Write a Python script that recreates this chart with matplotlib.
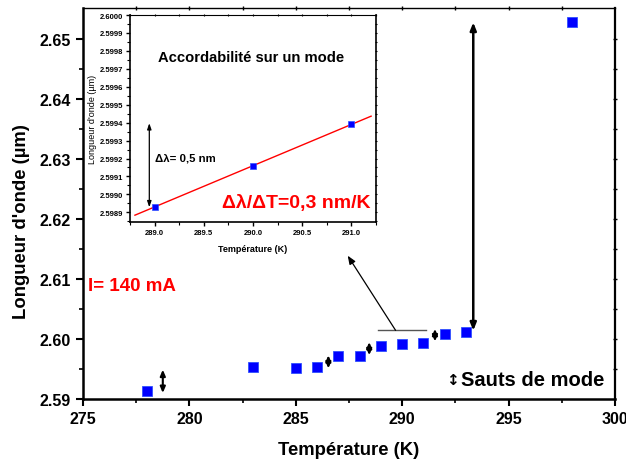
import matplotlib
matplotlib.use("Agg")
import matplotlib.pyplot as plt
import numpy as np

plt.rcParams['font.family'] = ['Liberation Sans', 'DejaVu Sans']

# main data
temps = [278, 283, 285, 286, 287, 288, 289, 290, 291, 292, 293, 298]
wavelengths = [2.5914, 2.5953, 2.5952, 2.5954, 2.5971, 2.5972, 2.5989, 2.5991, 2.5993, 2.6009, 2.6011, 2.6528]

# mode-jump arrows (T, y_low, y_high)
jump_T = [278.75, 286.53, 288.45, 291.54]
jump_lo = [2.5910, 2.5951, 2.5973, 2.5996]
jump_hi = [2.5949, 2.5973, 2.5995, 2.6017]
big_jump_T = 293.34
big_jump_lo = 2.6014
big_jump_hi = 2.6528

# inset data
inset_T = [289.0, 290.0, 291.0]
inset_wl = [2.59893, 2.59916, 2.59939]

xticks = [275, 280, 285, 290, 295, 300]
yticks = [2.59, 2.60, 2.61, 2.62, 2.63, 2.64, 2.65]
inset_xticks = [289.0, 289.5, 290.0, 290.5, 291.0]
inset_yticks = [2.5989, 2.5990, 2.5991, 2.5992, 2.5993, 2.5994, 2.5995, 2.5996, 2.5997, 2.5998, 2.5999, 2.6000]

blue = '#0000FF'
red = '#FF0000'

fig = plt.figure(figsize=(6.26, 4.64), dpi=100)
ax = fig.add_axes([0.1326, 0.1379, 0.8498, 0.8427])
ax.plot(temps, wavelengths, 's', color=blue, markersize=7.5, markeredgecolor='#3050ff', markeredgewidth=0.6, zorder=3)
ax.set_xlim(275, 300)
ax.set_ylim(2.59, 2.6552)
ax.set_xticks(xticks)
ax.set_xticklabels([str(t) for t in xticks])
ax.set_yticks(yticks)
ax.set_yticklabels(['%.2f' % v for v in yticks])
ax.set_xticks(np.arange(277.5, 300, 5), minor=True)
ax.set_yticks(np.arange(2.595, 2.655, 0.01), minor=True)
ax.tick_params(which='major', direction='out', length=5, width=1.5, labelsize=11.5, top=False, right=False)
ax.tick_params(which='minor', direction='out', length=3, width=1.2, top=False, right=False)
for lab in ax.get_xticklabels() + ax.get_yticklabels():
    lab.set_fontweight('bold')
for s in ['left', 'bottom']:
    ax.spines[s].set_linewidth(1.8)
ax.spines['top'].set_linewidth(1.0)
ax.spines['right'].set_linewidth(1.6)
# mirrored small ticks on top/right
axt = ax.secondary_xaxis('top')
axt.set_xticks(list(np.arange(277.5, 300, 2.5)))
axt.tick_params(direction='inout', length=3, width=1, labeltop=False)
axt.set_xticklabels([])
axt.spines['top'].set_visible(False)
axr = ax.secondary_yaxis('right')
axr.set_yticks(list(np.arange(2.595, 2.655, 0.005)))
axr.tick_params(direction='inout', length=3, width=1)
axr.set_yticklabels([])
axr.spines['right'].set_visible(False)

fig.text(349 / 626, 1 - 451 / 464, 'Température (K)', fontsize=13.3, fontweight='bold', ha='center', va='center')
fig.text(22 / 626, 1 - 222 / 464, "Longueur d'onde (µm)", fontsize=13.3, fontweight='bold',
         ha='center', va='center', rotation=90)

arrow_small = dict(arrowstyle='<|-|>,head_length=0.35,head_width=0.15', color='black', lw=1.5, shrinkA=0, shrinkB=0)
for t, lo, hi in zip(jump_T, jump_lo, jump_hi):
    ax.annotate('', xy=(t, hi), xytext=(t, lo), arrowprops=arrow_small)
ax.annotate('', xy=(big_jump_T, big_jump_hi), xytext=(big_jump_T, big_jump_lo),
            arrowprops=dict(arrowstyle='<|-|>,head_length=0.45,head_width=0.18', color='black', lw=1.8, shrinkA=0, shrinkB=0))

# pointer from data region to inset
ax.plot([288.85, 291.1], [2.60145, 2.60145], color='#555555', lw=1.0)
ax.annotate('', xy=(287.44, 2.6139), xytext=(289.69, 2.60145),
            arrowprops=dict(arrowstyle='-|>,head_length=0.5,head_width=0.2', color='black', lw=0.9, shrinkA=0, shrinkB=0))

ax.text(275.23, 2.6089, 'I= 140 mA', color=red, fontsize=13.5, fontweight='bold', ha='left', va='center')
ax.text(0.694, 0.05, '↕', transform=ax.transAxes, fontsize=11, fontweight='bold', ha='center', va='center', family=['DejaVu Sans'])
ax.text(0.711, 0.05, 'Sauts de mode', transform=ax.transAxes, fontsize=14.5, fontweight='bold', ha='left', va='center')

# inset
axi = fig.add_axes([0.2077, 0.5194, 0.3930, 0.4461])
axi.plot(inset_T, inset_wl, 's', color=blue, markersize=4.5, markeredgecolor='#3050ff', markeredgewidth=0.5, zorder=3)
coef = np.polyfit(inset_T, inset_wl, 1)
xf = np.array([288.8, 291.2])
axi.plot(xf, np.polyval(coef, xf), color=red, lw=1.0, zorder=2)
axi.set_xlim(288.75, 291.25)
axi.set_ylim(2.598846, 2.60000)
axi.set_xticks(inset_xticks)
axi.set_xticklabels(['%.1f' % v for v in inset_xticks])
axi.set_yticks(inset_yticks)
axi.set_yticklabels(['%.4f' % v for v in inset_yticks])
axi.set_xticks(np.arange(288.75, 291.3, 0.25), minor=True)
axi.set_yticks(np.arange(2.59885, 2.6, 0.0001), minor=True)
axi.tick_params(which='major', direction='out', length=3, width=1.0, labelsize=5.5, pad=2, top=False, right=False)
axi.tick_params(which='minor', direction='out', length=2, width=0.8, top=False, right=False)
for lab in axi.get_xticklabels() + axi.get_yticklabels():
    lab.set_fontweight('bold')
for s in ['left', 'bottom', 'right']:
    axi.spines[s].set_linewidth(1.2)
axi.spines['top'].set_linewidth(0.8)
ait = axi.secondary_xaxis('top')
ait.set_xticks(list(np.arange(288.75, 291.3, 0.25)))
ait.tick_params(direction='inout', length=2, width=0.8)
ait.set_xticklabels([])
ait.spines['top'].set_visible(False)
air = axi.secondary_yaxis('right')
air.set_yticks(list(np.arange(2.59885, 2.6, 0.00005)))
air.tick_params(direction='inout', length=2, width=0.8)
air.set_yticklabels([])
air.spines['right'].set_visible(False)
axi.set_xlabel('Température (K)', fontsize=6.5, fontweight='bold', labelpad=6)
axi.set_ylabel("Longueur d'onde (µm)", fontsize=6.5, labelpad=2)

axi.annotate('', xy=(288.946, 2.599397), xytext=(288.946, 2.598928),
             arrowprops=dict(arrowstyle='<|-|>,head_length=0.35,head_width=0.12', color='black', lw=0.9, shrinkA=0, shrinkB=0))
axi.text(0.114, 0.797, 'Accordabilité sur un mode', transform=axi.transAxes, fontsize=10.6, fontweight='bold', ha='left', va='center')
axi.text(0.102, 0.314, 'Δλ= 0,5 nm', transform=axi.transAxes, fontsize=8.2, fontweight='bold', ha='left', va='center')
axi.text(0.374, 0.0966, 'Δλ/ΔT=0,3 nm/K', transform=axi.transAxes, fontsize=14, fontweight='bold', color=red, ha='left', va='center')

fig.savefig('out.png', dpi=100)
